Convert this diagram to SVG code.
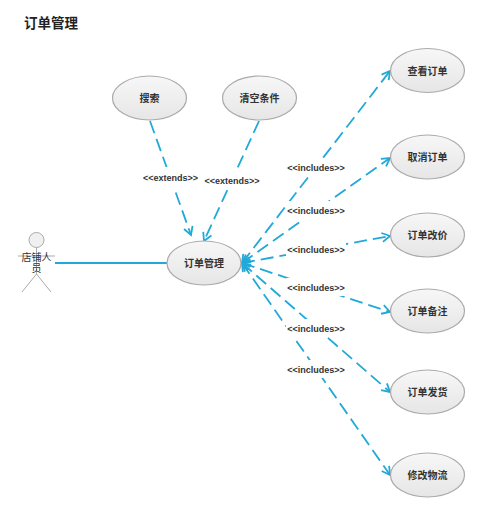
<svg xmlns="http://www.w3.org/2000/svg" width="500" height="512" viewBox="0 0 500 512">
<defs>
<linearGradient id="g" x1="0" y1="0" x2="0" y2="1"><stop offset="0" stop-color="#f7f7f7"/><stop offset="1" stop-color="#e6e6e6"/></linearGradient>
<marker id="a" markerWidth="12" markerHeight="12" refX="9.500" refY="6" orient="auto-start-reverse" markerUnits="userSpaceOnUse"><path d="M1.500,1.500 L9.500,6 L1.500,10.500" fill="none" stroke="#22a9d8" stroke-width="1.800"/></marker>
</defs>
<style>
text{font-family:"Liberation Sans","Noto Sans CJK SC",sans-serif;fill:#333}
.u{fill:url(#g);stroke:#aaa;stroke-width:1.2}
.n{font-size:10px;font-weight:bold;text-anchor:middle}
.d{fill:none;stroke:#22a9d8;stroke-width:1.800;stroke-dasharray:13 6;marker-end:url(#a)}
.i{marker-start:url(#a)}
.l{font-size:9px;font-weight:bold;text-anchor:middle}
.b{fill:#fff}
.s{fill:none;stroke:#aaa;stroke-width:1}
</style>
<text x="24" y="27.500" style="font-size:13.500px;font-weight:bold;fill:#222">订单管理</text>
<g id="connectors">
<path d="M55,263 H167" fill="none" stroke="#22a9d8" stroke-width="1.800"/>
<path class="d" d="M150,121 L191,235"/>
<path class="d" d="M259,121 L204,241"/>
<path class="d i" d="M242,263 L390,71"/>
<path class="d i" d="M242,263 L390,158"/>
<path class="d i" d="M242,263 L390,236"/>
<path class="d i" d="M242,263 L390,312"/>
<path class="d i" d="M242,263 L390,392"/>
<path class="d i" d="M242,263 L390,475"/>
<rect class="b" x="142" y="167" width="58" height="20"/>
<rect class="b" x="203" y="172" width="58" height="18"/>
<rect class="b" x="286" y="158" width="60" height="18"/>
<rect class="b" x="286" y="201" width="60" height="19"/>
<rect class="b" x="286" y="240" width="60" height="18"/>
<rect class="b" x="286" y="278" width="60" height="18"/>
<rect class="b" x="286" y="319" width="60" height="18"/>
<rect class="b" x="286" y="360" width="60" height="18"/>
<text class="l" x="170.500" y="180.500">&lt;&lt;extends&gt;&gt;</text>
<text class="l" x="232" y="184">&lt;&lt;extends&gt;&gt;</text>
<text class="l" x="316" y="170.500">&lt;&lt;includes&gt;&gt;</text>
<text class="l" x="316" y="214">&lt;&lt;includes&gt;&gt;</text>
<text class="l" x="316" y="253">&lt;&lt;includes&gt;&gt;</text>
<text class="l" x="316" y="290.500">&lt;&lt;includes&gt;&gt;</text>
<text class="l" x="316" y="331.500">&lt;&lt;includes&gt;&gt;</text>
<text class="l" x="316" y="373">&lt;&lt;includes&gt;&gt;</text>
</g>
<g id="actor">
<circle cx="36.500" cy="240" r="7.500" fill="#f0f0f0" stroke="#aaa"/>
<path class="s" d="M36.500,247.500 V274 M18,256 H55 M36.500,274 L22,292 M36.500,274 L51,292"/>
<text x="36.500" y="260.500" style="font-size:10px;text-anchor:middle">店铺人</text>
<text x="36.500" y="271.500" style="font-size:10px;text-anchor:middle">员</text>
</g>
<g id="search"><ellipse class="u" cx="149.500" cy="98" rx="37" ry="22"/><text class="n" x="149.500" y="102">搜索</text></g>
<g id="clear"><ellipse class="u" cx="259.500" cy="98" rx="37" ry="22"/><text class="n" x="259.500" y="102">清空条件</text></g>
<g id="main"><ellipse class="u" cx="204" cy="263" rx="37" ry="22"/><text class="n" x="204" y="267">订单管理</text></g>
<g id="view"><ellipse class="u" cx="427.500" cy="70.500" rx="37" ry="22"/><text class="n" x="427.500" y="74.500">查看订单</text></g>
<g id="cancel"><ellipse class="u" cx="427.500" cy="157" rx="37" ry="22"/><text class="n" x="427.500" y="161">取消订单</text></g>
<g id="price"><ellipse class="u" cx="427.500" cy="235" rx="37" ry="22"/><text class="n" x="427.500" y="239">订单改价</text></g>
<g id="note"><ellipse class="u" cx="427.500" cy="311" rx="37" ry="22"/><text class="n" x="427.500" y="315">订单备注</text></g>
<g id="ship"><ellipse class="u" cx="427.500" cy="392" rx="37" ry="22"/><text class="n" x="427.500" y="396">订单发货</text></g>
<g id="logistics"><ellipse class="u" cx="427.500" cy="475" rx="37" ry="22"/><text class="n" x="427.500" y="479">修改物流</text></g>
</svg>
